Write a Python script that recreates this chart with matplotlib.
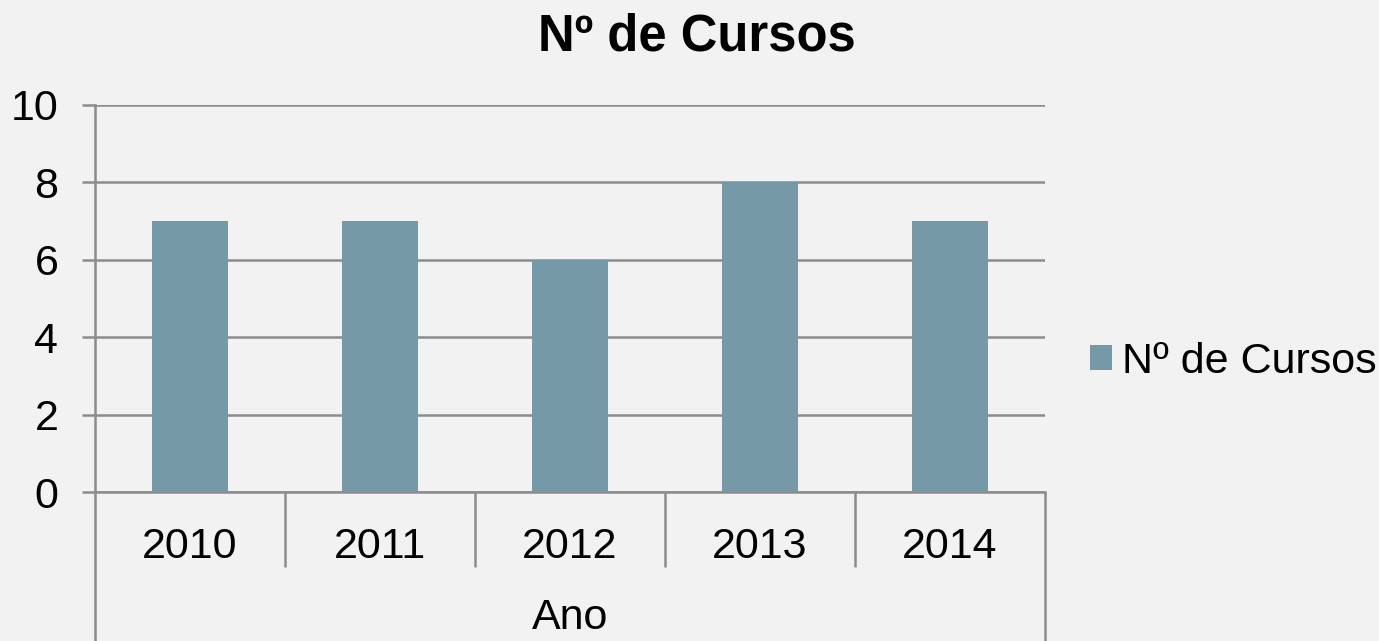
import matplotlib.pyplot as plt
import numpy as np
import pandas as pd

if __name__ == '__main__':
	df = pd.DataFrame({
		'ano': ['2010', '2011', '2012', '2013', '2014'],
		'cursos': [7, 7, 6, 8, 7]
	})
	plt.rcParams['font.family'] = ['Liberation Sans', 'DejaVu Sans']
	grey = '#8c8c8c'

	plt.figure(figsize=(13.79, 6.41), dpi=100, facecolor='#f2f2f2')
	plt.axes([95 / 1379, 149 / 641, 950 / 1379, 387 / 641], facecolor='#f2f2f2')
	x = np.arange(len(df))
	plt.bar(x, df['cursos'], width=0.395, color='#7599a6', label='Nº de Cursos', zorder=3)

	plt.xlim(-0.5, 4.5)
	plt.ylim(0, 10)
	plt.yticks(range(0, 11, 2), fontsize=31)
	plt.xticks(x, df['ano'], fontsize=31)
	plt.grid(axis='y', color=grey, linewidth=1.8, zorder=0)

	ax = plt.gca()
	for s in ['top', 'right']:
		ax.spines[s].set_visible(False)
	for s in ['left', 'bottom']:
		ax.spines[s].set_color(grey)
		ax.spines[s].set_linewidth(1.8)
	ax.tick_params(axis='y', length=9.4, width=1.8, color=grey, pad=17)
	ax.tick_params(axis='x', length=0, pad=25)
	# category separators below the axis
	plt.vlines([0.5, 1.5, 2.5, 3.5], 0, -75 / 387, transform=ax.get_xaxis_transform(),
		color=grey, linewidth=1.8, clip_on=False)
	plt.vlines([-0.5, 4.5], 0, -149 / 387, transform=ax.get_xaxis_transform(),
		color=grey, linewidth=1.8, clip_on=False)
	plt.text(2, -126 / 387, 'Ano', transform=ax.get_xaxis_transform(),
		ha='center', va='center', fontsize=31)

	plt.figtext(697 / 1379, 1 - 37 / 641, 'Nº de Cursos', fontsize=36.5, fontweight='bold',
		ha='center', va='center')
	plt.legend(loc='center left', bbox_to_anchor=(1090 / 1379, 1 - 362 / 641),
		bbox_transform=plt.gcf().transFigure, frameon=False, fontsize=31,
		handlelength=0.51, handleheight=0.51, handletextpad=0.23, borderaxespad=0,
		borderpad=0)

	plt.savefig('out.png', dpi=100, facecolor='#f2f2f2')
